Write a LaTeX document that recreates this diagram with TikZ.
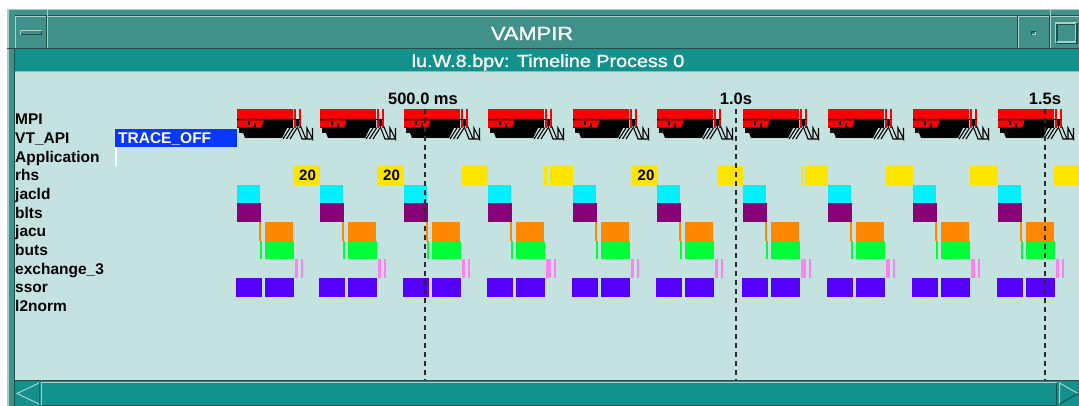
\documentclass[tikz,border=0pt]{standalone}
\usepackage{fontspec}
\newfontfamily\uifont{Liberation Sans}
\newfontfamily\uiheavyfont[FakeBold=1.2]{Liberation Sans}

\definecolor{frameteal}{HTML}{3F9189}
\definecolor{framelight}{HTML}{A7D0CB}
\definecolor{framedark}{HTML}{1E4F4A}
\definecolor{barteal}{HTML}{13918D}
\definecolor{panelbg}{HTML}{C4E3E0}
\definecolor{traceblue}{HTML}{0A37FF}
\definecolor{mpired}{HTML}{FF0000}
\definecolor{rhsyellow}{HTML}{FFE400}
\definecolor{jacldcyan}{HTML}{00F0FF}
\definecolor{bltspurple}{HTML}{880077}
\definecolor{jacuorange}{HTML}{FF8800}
\definecolor{butsgreen}{HTML}{00FF38}
\definecolor{exchpink}{HTML}{FF80EE}
\definecolor{ssorviolet}{HTML}{5500FF}
\definecolor{gridline}{HTML}{2A2A2A}

% one timeline row: colour, x from, x to, row index
\newcommand\trackbar[4]{\fill[#1] ({#2},{110+18.65*#4}) rectangle ({#3},{110+18.65*(#4+1)});}

\begin{document}
\begin{tikzpicture}[x=1pt,y=-1pt,
  rowlabel/.style={anchor=base west, inner sep=0pt, text=black,
    font={\uifont\bfseries\fontsize{15.5pt}{16pt}\selectfont}},
  ticklabel/.style={anchor=base, inner sep=0pt, text=black,
    font={\uifont\bfseries\fontsize{16.5pt}{17pt}\selectfont}},
  countlabel/.style={anchor=center, inner sep=0pt, text=black,
    font={\uifont\bfseries\fontsize{15pt}{16pt}\selectfont}},
  gridmark/.style={draw=gridline, line width=1.3pt, dash pattern=on 5pt off 4pt},
  bevellight/.style={draw=framelight, line width=1.2pt},
  beveldark/.style={draw=framedark, line width=1.2pt},
  zig/.style={draw=black, line width=1.1pt}
]
\useasboundingbox (0,0) rectangle (1079,406);
\fill[white] (0,0) rectangle (1079,406);

% ---------- window frame ----------
\fill[frameteal] (7,9) rectangle (1079,406);
\draw[bevellight, line width=1.5pt] (7,9.75) -- (1079,9.75);
\draw[bevellight, line width=1.5pt] (7.75,9) -- (7.75,406);
\draw[beveldark, line width=1pt] (15,15.5) -- (1079,15.5);
\draw[bevellight, line width=1pt] (15,16.6) -- (1079,16.6);
\draw[beveldark] (7,48.4) -- (1079,48.4);
\draw[beveldark, line width=1pt] (14.5,49) -- (14.5,406);
% window-menu button
\draw[bevellight, line width=1pt] (15.5,16) -- (15.5,48);
\draw[beveldark, line width=1pt] (46,16) -- (46,48);
\draw[bevellight, line width=1pt] (47.3,9) -- (47.3,48);
\fill[framelight] (20,30) rectangle (42,35.5);
\fill[framedark] (21,31) rectangle (42,35.5);
\fill[frameteal] (21,31) rectangle (41,34.5);
% minimise / maximise buttons
\draw[beveldark, line width=1pt] (1017.5,16) -- (1017.5,48);
\draw[bevellight, line width=1pt] (1018.7,16) -- (1018.7,48);
\draw[beveldark, line width=1pt] (1049,16) -- (1049,48);
\draw[bevellight, line width=1pt] (1050.3,9) -- (1050.3,48);
\fill[framedark] (1031,31) rectangle (1035.5,35.5);
\fill[framelight] (1032,32) rectangle (1035.5,35.5);
\fill[frameteal!70!framedark] (1032,32) rectangle (1034.5,34.5);
\draw[bevellight] (1055.5,43.5) -- (1055.5,23) -- (1077,23);
\draw[beveldark] (1057,42) -- (1057,24.5) -- (1075.5,24.5);
\draw[beveldark] (1055.5,43.5) -- (1077,43.5) -- (1077,23);
\draw[bevellight] (1057,42) -- (1075.5,42) -- (1075.5,24.5);

\node[inner sep=0pt, text=white, xscale=1.15,
  font={\uiheavyfont\fontsize{19pt}{20pt}\selectfont}] (wintitle) at (532,33.5) {VAMPIR};

% ---------- caption bar ----------
\fill[barteal] (15,49) rectangle (1079,72);
\draw[bevellight, draw=framelight!75!barteal, line width=1.2pt] (15,71.4) -- (1079,71.4);
\node[anchor=base, inner sep=0pt, text=white, xscale=1.13,
  font={\uiheavyfont\fontsize{17.5pt}{18pt}\selectfont}] (caption) at (548,67)
  {lu.W.8.bpv: Timeline Process 0};

% ---------- timeline panel ----------
\fill[panelbg] (15,72) rectangle (1079,380);

% row labels
\node[rowlabel] (lblMPI)   at (15,125)    {MPI};
\node[rowlabel] (lblVT)    at (15,143.65) {VT\_API};
\node[rowlabel] (lblApp)   at (15,162.3)  {Application};
\node[rowlabel] (lblrhs)   at (15,180.95) {rhs};
\node[rowlabel] (lbljacld) at (15,199.6)  {jacld};
\node[rowlabel] (lblblts)  at (15,218.25) {blts};
\node[rowlabel] (lbljacu)  at (15,236.9)  {jacu};
\node[rowlabel] (lblbuts)  at (15,255.55) {buts};
\node[rowlabel] (lblexch)  at (15,274.2)  {exchange\_3};
\node[rowlabel] (lblssor)  at (15,292.85) {ssor};
\node[rowlabel] (lbll2)    at (15,311.5)  {l2norm};

% time axis labels
\node[ticklabel] (tick500) at (423,105) {500.0 ms};
\node[ticklabel] (tick1000) at (736,105) {1.0s};
\node[ticklabel] (tick1500) at (1045,105) {1.5s};

% VT_API state and application marker
\fill[traceblue] (115,128.65) rectangle (237,147.3);
\node[anchor=base west, inner sep=0pt, text=white,
  font={\uifont\bfseries\fontsize{15.5pt}{16pt}\selectfont}] (traceoff) at (118,143.65) {TRACE\_OFF};
\fill[white] (115,147.3) rectangle (116.6,165.95);

% rhs intervals
\foreach \a/\b in {293/320, 377/404, 462/488, 550/573, 632/658, 717/743,
                   805/828, 886/913, 974/998, 1054/1079}
  {\trackbar{rhsyellow}{\a}{\b}{3}}
\foreach \a in {544, 801, 970}
  {\trackbar{rhsyellow}{\a}{\a+2.5}{3}}
\node[countlabel] (cnt1) at (307.5,175.3) {20};
\node[countlabel] (cnt2) at (391.5,175.3) {20};
\node[countlabel] (cnt3) at (646,175.3) {20};

% one SSOR iteration per period
\foreach \o/\w in {237/2.5, 320/3, 404/3, 488/5, 573/3, 657/3, 743/5,
                   828/4, 913/4, 998/3} {
  % MPI activity
  \fill[mpired] (\o,109) rectangle (\o+56,119);
  \fill[black] (\o,119) -- (\o+56,119) -- (\o+56,128) -- (\o+50,128)
    -- (\o+45,138) -- (\o+8,138) -- (\o+6,133) -- (\o+2,133) -- (\o+2,128)
    -- (\o,128) -- cycle;
  \fill[mpired] (\o,120.3) -- (\o+26,120.3) -- (\o+26,123) -- (\o+24,127.5)
    -- (\o,127.5) -- cycle;
  \fill[black] (\o+11,121.5) rectangle (\o+12.5,125);
  \fill[black] (\o+17,123) rectangle (\o+18.5,127);
  \fill[black] (\o+57,120.5) rectangle (\o+64,126);
  \fill[mpired] (\o+57,109) rectangle (\o+59,128);
  \fill[mpired] (\o+62,109) rectangle (\o+63.5,128);
  \draw[black, line width=1pt] (\o,119.5) -- (\o+64,119.5);
  \foreach \s in {0,3.5,7}
    {\draw[zig] (\o+46+\s,139) -- (\o+53+\s,128);}
  \draw[zig] (\o+60,126) -- (\o+65,139) -- (\o+76,139);
  \draw[zig] (\o+63.5,126) -- (\o+69,139);
  \draw[zig] (\o+70,139) -- (\o+70,128) -- (\o+75.5,139) -- (\o+75.5,128);
  % routines
  \trackbar{jacldcyan}{\o}{\o+23}{4}
  \trackbar{bltspurple}{\o}{\o+24}{5}
  \trackbar{jacuorange}{\o+22}{\o+23.6}{6}
  \trackbar{jacuorange}{\o+28}{\o+56}{6}
  \trackbar{butsgreen}{\o+23}{\o+24.6}{7}
  \trackbar{butsgreen}{\o+28}{\o+57}{7}
  \trackbar{exchpink}{\o+58}{\o+58+\w}{8}
  \trackbar{exchpink}{\o+\w+61}{\o+\w+63}{8}
  \trackbar{ssorviolet}{\o-1.5}{\o+24.5}{9}
  \trackbar{ssorviolet}{\o+28}{\o+57}{9}
}

% time grid
\draw[gridmark] (425,109) -- (425,380);
\draw[gridmark] (736,109) -- (736,380);
\draw[gridmark] (1045,109) -- (1045,380);

% ---------- horizontal scroll bar ----------
\fill[barteal] (15,380) rectangle (1079,406);
\draw[beveldark, line width=1pt] (15,380.5) -- (1079,380.5);
\draw[bevellight, line width=1pt] (41.5,405) -- (41.5,382.5) -- (1057,382.5);
\draw[beveldark, line width=1pt] (1056.5,383) -- (1056.5,405) -- (41.5,405);
\draw[bevellight, line width=1pt] (39,383) -- (17,393.5) -- (39,404);
\draw[beveldark, line width=1pt] (39,383) -- (39,404);
\draw[bevellight, line width=1pt] (1059.5,404) -- (1059.5,383) -- (1078,393.5);
\draw[beveldark, line width=1pt] (1078,393.5) -- (1059.5,404);
\end{tikzpicture}
\end{document}
